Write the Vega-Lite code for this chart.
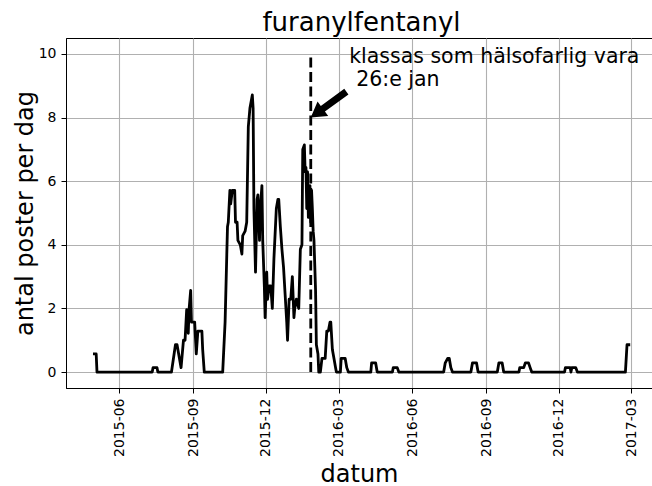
{
  "$schema": "https://vega.github.io/schema/vega-lite/v6.json",
  "width": 586,
  "height": 350,
  "autosize": {"type": "none"},
  "padding": {"left": 66, "top": 38, "right": 0, "bottom": 98},
  "background": "white",
  "config": {
    "font": "DejaVu Sans",
    "view": {"stroke": "black", "strokeWidth": 1},
    "axis": {
      "grid": true,
      "gridColor": "#b0b0b0",
      "gridWidth": 1.1,
      "domainColor": "black",
      "domainWidth": 1,
      "tickColor": "black",
      "tickSize": 5,
      "tickWidth": 1,
      "labelColor": "black",
      "labelFontSize": 14,
      "labelPadding": 5,
      "titleColor": "black",
      "titleFontSize": 24,
      "titleFontWeight": "normal",
      "labelOverlap": false,
      "labelFlush": false
    }
  },
  "title": {
    "text": "furanylfentanyl",
    "fontSize": 26,
    "fontWeight": "normal",
    "color": "black",
    "frame": "group",
    "anchor": "middle",
    "baseline": "alphabetic",
    "offset": -19,
    "dx": 2.5
  },
  "datasets": {
    "series": [
      {"date": "2015-04-29", "value": 0.57},
      {"date": "2015-05-03", "value": 0.57},
      {"date": "2015-05-04", "value": 0},
      {"date": "2015-07-12", "value": 0},
      {"date": "2015-07-13", "value": 0.14},
      {"date": "2015-07-18", "value": 0.14},
      {"date": "2015-07-19", "value": 0},
      {"date": "2015-08-05", "value": 0},
      {"date": "2015-08-10", "value": 0.86},
      {"date": "2015-08-12", "value": 0.86},
      {"date": "2015-08-15", "value": 0.43},
      {"date": "2015-08-17", "value": 0.14},
      {"date": "2015-08-20", "value": 1.0},
      {"date": "2015-08-22", "value": 1.0},
      {"date": "2015-08-24", "value": 1.96},
      {"date": "2015-08-26", "value": 1.22},
      {"date": "2015-08-27", "value": 1.96},
      {"date": "2015-08-29", "value": 2.57},
      {"date": "2015-08-30", "value": 1.57},
      {"date": "2015-09-01", "value": 1.57},
      {"date": "2015-09-03", "value": 1.57},
      {"date": "2015-09-05", "value": 0.57},
      {"date": "2015-09-07", "value": 1.29},
      {"date": "2015-09-12", "value": 1.29},
      {"date": "2015-09-13", "value": 0.71},
      {"date": "2015-09-15", "value": 0},
      {"date": "2015-10-08", "value": 0},
      {"date": "2015-10-11", "value": 1.57},
      {"date": "2015-10-14", "value": 4.57},
      {"date": "2015-10-15", "value": 4.71},
      {"date": "2015-10-17", "value": 5.71},
      {"date": "2015-10-18", "value": 5.29},
      {"date": "2015-10-20", "value": 5.71},
      {"date": "2015-10-23", "value": 5.71},
      {"date": "2015-10-24", "value": 4.71},
      {"date": "2015-10-26", "value": 4.71},
      {"date": "2015-10-27", "value": 4.14},
      {"date": "2015-10-30", "value": 4.0},
      {"date": "2015-11-01", "value": 3.71},
      {"date": "2015-11-02", "value": 4.29},
      {"date": "2015-11-05", "value": 4.43},
      {"date": "2015-11-07", "value": 4.71},
      {"date": "2015-11-09", "value": 7.71},
      {"date": "2015-11-11", "value": 8.29},
      {"date": "2015-11-13", "value": 8.57},
      {"date": "2015-11-14", "value": 8.71},
      {"date": "2015-11-15", "value": 8.29},
      {"date": "2015-11-16", "value": 5.14},
      {"date": "2015-11-18", "value": 3.14},
      {"date": "2015-11-20", "value": 5.43},
      {"date": "2015-11-21", "value": 5.57},
      {"date": "2015-11-23", "value": 4.14},
      {"date": "2015-11-24", "value": 5.14},
      {"date": "2015-11-26", "value": 5.86},
      {"date": "2015-11-27", "value": 4.14},
      {"date": "2015-11-29", "value": 2.71},
      {"date": "2015-11-30", "value": 1.71},
      {"date": "2015-12-02", "value": 3.14},
      {"date": "2015-12-03", "value": 2.29},
      {"date": "2015-12-05", "value": 2.71},
      {"date": "2015-12-07", "value": 2.71},
      {"date": "2015-12-09", "value": 2.0},
      {"date": "2015-12-11", "value": 3.57},
      {"date": "2015-12-14", "value": 5.14},
      {"date": "2015-12-16", "value": 5.43},
      {"date": "2015-12-17", "value": 5.43},
      {"date": "2015-12-19", "value": 4.57},
      {"date": "2015-12-21", "value": 3.86},
      {"date": "2015-12-23", "value": 3.29},
      {"date": "2015-12-25", "value": 2.43},
      {"date": "2015-12-27", "value": 1.57},
      {"date": "2015-12-28", "value": 1.0},
      {"date": "2015-12-30", "value": 2.29},
      {"date": "2016-01-01", "value": 2.29},
      {"date": "2016-01-03", "value": 3.0},
      {"date": "2016-01-05", "value": 1.71},
      {"date": "2016-01-06", "value": 2.0},
      {"date": "2016-01-08", "value": 2.29},
      {"date": "2016-01-11", "value": 2.0},
      {"date": "2016-01-13", "value": 3.86},
      {"date": "2016-01-15", "value": 4.0},
      {"date": "2016-01-16", "value": 7.0},
      {"date": "2016-01-18", "value": 7.14},
      {"date": "2016-01-19", "value": 6.29},
      {"date": "2016-01-20", "value": 6.43},
      {"date": "2016-01-21", "value": 5.14},
      {"date": "2016-01-22", "value": 6.29},
      {"date": "2016-01-23", "value": 4.86},
      {"date": "2016-01-25", "value": 5.86},
      {"date": "2016-01-26", "value": 4.71},
      {"date": "2016-01-27", "value": 5.71},
      {"date": "2016-01-28", "value": 5.14},
      {"date": "2016-01-29", "value": 4.43},
      {"date": "2016-01-30", "value": 4.14},
      {"date": "2016-02-01", "value": 2.57},
      {"date": "2016-02-02", "value": 0.86},
      {"date": "2016-02-04", "value": 0.57},
      {"date": "2016-02-05", "value": 0},
      {"date": "2016-02-07", "value": 0},
      {"date": "2016-02-09", "value": 0.43},
      {"date": "2016-02-13", "value": 0.43},
      {"date": "2016-02-15", "value": 1.29},
      {"date": "2016-02-17", "value": 1.29},
      {"date": "2016-02-19", "value": 1.57},
      {"date": "2016-02-20", "value": 1.57},
      {"date": "2016-02-22", "value": 0.71},
      {"date": "2016-02-24", "value": 0.43},
      {"date": "2016-02-26", "value": 0.14},
      {"date": "2016-02-27", "value": 0},
      {"date": "2016-03-03", "value": 0},
      {"date": "2016-03-04", "value": 0.43},
      {"date": "2016-03-09", "value": 0.43},
      {"date": "2016-03-11", "value": 0.14},
      {"date": "2016-03-13", "value": 0},
      {"date": "2016-04-10", "value": 0},
      {"date": "2016-04-11", "value": 0.29},
      {"date": "2016-04-16", "value": 0.29},
      {"date": "2016-04-18", "value": 0},
      {"date": "2016-05-07", "value": 0},
      {"date": "2016-05-08", "value": 0.14},
      {"date": "2016-05-13", "value": 0.14},
      {"date": "2016-05-15", "value": 0},
      {"date": "2016-07-10", "value": 0},
      {"date": "2016-07-12", "value": 0.29},
      {"date": "2016-07-15", "value": 0.43},
      {"date": "2016-07-17", "value": 0.43},
      {"date": "2016-07-19", "value": 0.14},
      {"date": "2016-07-21", "value": 0},
      {"date": "2016-08-13", "value": 0},
      {"date": "2016-08-15", "value": 0.29},
      {"date": "2016-08-20", "value": 0.29},
      {"date": "2016-08-22", "value": 0},
      {"date": "2016-09-15", "value": 0},
      {"date": "2016-09-17", "value": 0.29},
      {"date": "2016-09-21", "value": 0.29},
      {"date": "2016-09-23", "value": 0},
      {"date": "2016-10-12", "value": 0},
      {"date": "2016-10-13", "value": 0.14},
      {"date": "2016-10-18", "value": 0.14},
      {"date": "2016-10-20", "value": 0.29},
      {"date": "2016-10-24", "value": 0.29},
      {"date": "2016-10-26", "value": 0.14},
      {"date": "2016-10-28", "value": 0},
      {"date": "2016-12-08", "value": 0},
      {"date": "2016-12-09", "value": 0.14},
      {"date": "2016-12-15", "value": 0.14},
      {"date": "2016-12-16", "value": 0},
      {"date": "2016-12-17", "value": 0.14},
      {"date": "2016-12-22", "value": 0.14},
      {"date": "2016-12-24", "value": 0},
      {"date": "2017-02-22", "value": 0},
      {"date": "2017-02-24", "value": 0.86},
      {"date": "2017-02-28", "value": 0.86}
    ],
    "vline": [{"date": "2016-01-26", "value": 0, "value2": 9.9}],
    "arrow": [{"date": "2016-01-26", "value": 8}],
    "note": [{"date": "2016-03-14", "value": 9, "line1": "klassas som hälsofarlig vara", "line2": "26:e jan"}]
  },
  "encoding": {
    "x": {
      "field": "date",
      "type": "temporal",
      "scale": {
        "type": "utc",
        "domain": [
          {"year": 2015, "month": 3, "date": 26, "hours": 7, "utc": true},
          {"year": 2017, "month": 3, "date": 27, "hours": 5, "utc": true}
        ],
        "nice": false
      },
      "axis": {
        "title": "datum",
        "format": "%Y-%m",
        "labelAngle": -90,
        "titlePadding": 6,
        "values": [
          {"year": 2015, "month": 6, "date": 1, "utc": true},
          {"year": 2015, "month": 9, "date": 1, "utc": true},
          {"year": 2015, "month": 12, "date": 1, "utc": true},
          {"year": 2016, "month": 3, "date": 1, "utc": true},
          {"year": 2016, "month": 6, "date": 1, "utc": true},
          {"year": 2016, "month": 9, "date": 1, "utc": true},
          {"year": 2016, "month": 12, "date": 1, "utc": true},
          {"year": 2017, "month": 3, "date": 1, "utc": true}
        ]
      }
    },
    "y": {
      "field": "value",
      "type": "quantitative",
      "scale": {"domain": [-0.5, 10.5], "nice": false, "zero": false},
      "axis": {
        "title": "antal poster per dag",
        "values": [0, 2, 4, 6, 8, 10],
        "format": "d",
        "titlePadding": 1
      }
    }
  },
  "layer": [
    {
      "data": {"name": "series"},
      "mark": {"type": "line", "color": "black", "strokeWidth": 2.8, "strokeJoin": "round", "clip": true}
    },
    {
      "data": {"name": "vline"},
      "mark": {"type": "rule", "color": "black", "strokeWidth": 2.8, "strokeDash": [10, 4.5]},
      "encoding": {"y2": {"field": "value2"}}
    },
    {
      "data": {"name": "arrow"},
      "mark": {
        "type": "point",
        "shape": "M0,0 L0.68,-0.41 L0.68,-0.16 L2,-0.16 L2,0.16 L0.68,0.16 L0.68,0.41 Z",
        "size": 1936,
        "filled": true,
        "color": "black",
        "opacity": 1,
        "strokeWidth": 0,
        "angle": -36
      }
    },
    {
      "data": {"name": "note"},
      "mark": {
        "type": "text",
        "color": "black",
        "fontSize": 20.5,
        "align": "left",
        "baseline": "alphabetic",
        "dy": -23
      },
      "encoding": {"text": {"field": "line1", "type": "nominal"}}
    },
    {
      "data": {"name": "note"},
      "mark": {
        "type": "text",
        "color": "black",
        "fontSize": 20.5,
        "align": "left",
        "baseline": "alphabetic",
        "dx": 7
      },
      "encoding": {"text": {"field": "line2", "type": "nominal"}}
    }
  ]
}
